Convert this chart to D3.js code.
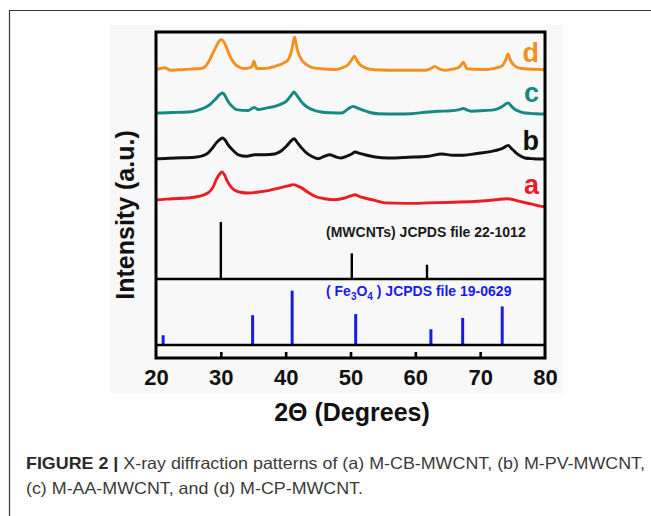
<!DOCTYPE html>
<html>
<head>
<meta charset="utf-8">
<script src="https://cdn.jsdelivr.net/npm/d3@7"></script>
<style>
  html, body { margin: 0; padding: 0; background: #ffffff; }
  svg { display: block; }
</style>
</head>
<body>
<svg id="fig" width="651" height="516"></svg>
<script>
// XRD patterns, stacked: [2θ, intensity (a.u., offset included)]
const patternA = [
  [20, 322], [20.1, 321], [22.5, 325], [24.95, 328], [26.5, 334], [28.0, 348], [28.8, 372], [29.3, 402],
  [29.8, 424], [30.2, 433], [30.6, 420], [31.0, 396], [31.6, 372], [32.2, 358], [33.2, 350], [34.2, 348],
  [35.8, 352], [37.3, 358], [39.4, 371], [40.5, 378], [41.2, 382], [41.8, 377], [42.45, 369], [43.5, 350],
  [44.5, 335], [46.0, 325], [47.6, 321], [49.1, 328], [50.0, 336], [50.7, 341], [51.4, 334], [52.2, 328],
  [53.8, 318], [55.3, 308], [58.5, 306], [62.0, 308], [66.0, 311], [69.7, 315], [72.5, 321], [74.1, 325],
  [75.0, 322], [75.9, 315], [77.8, 304], [79.5, 294], [80, 292]
];
const patternB = [
  [20, 487], [20.1, 487], [23.0, 490], [26.0, 493], [27.2, 499], [28.0, 510], [28.7, 530], [29.3, 551],
  [29.9, 566], [30.3, 571], [30.7, 561], [31.1, 544], [31.9, 520], [32.7, 503], [34.0, 497], [35.25, 503],
  [36.8, 503], [38.3, 506], [39.3, 518], [40.1, 537], [40.8, 558], [41.3, 568], [41.8, 552], [42.45, 531],
  [43.2, 511], [44.0, 497], [45.0, 487], [45.9, 496], [46.8, 503], [47.7, 495], [48.6, 490], [49.5, 498],
  [50.2, 506], [50.7, 514], [51.4, 509], [52.2, 503], [53.8, 494], [55.8, 490], [59.0, 493], [62.0, 497],
  [64.1, 506], [65.8, 501], [67.4, 501], [69.5, 508], [71.8, 517], [73.0, 525], [73.6, 531], [74.3, 541],
  [74.8, 529], [75.4, 514], [76.1, 500], [76.9, 490], [78.2, 487], [79.5, 486], [80, 486]
];
const patternC = [
  [20, 672], [20.1, 672], [22.5, 674], [24.95, 676], [26.4, 683], [27.5, 693], [28.4, 708], [29.1, 726],
  [29.8, 746], [30.3, 753], [30.7, 740], [31.1, 720], [31.7, 700], [32.4, 686], [34.2, 682], [34.8, 690],
  [35.2, 695], [35.75, 686], [37.0, 692], [38.3, 699], [39.3, 708], [40.1, 720], [40.8, 742], [41.3, 757],
  [41.7, 744], [42.2, 726], [42.8, 707], [43.5, 693], [44.5, 682], [45.5, 676], [47.0, 673], [48.6, 672],
  [49.6, 688], [50.4, 699], [51.0, 693], [51.7, 686], [53.0, 674], [54.3, 669], [57.0, 668], [59.4, 669],
  [61.5, 675], [63.5, 679], [65.5, 681], [66.8, 686], [67.4, 690], [68.0, 684], [68.7, 679], [70.5, 682],
  [72.3, 686], [73.4, 698], [74.3, 713], [74.8, 700], [75.4, 686], [76.1, 678], [76.9, 672], [78.5, 669],
  [79.5, 668], [80, 668]
];
const patternD = [
  [20, 846], [20.1, 848], [20.8, 853], [21.4, 855], [22.2, 845], [23.5, 847], [24.5, 848], [26.0, 851],
  [27.0, 852], [27.8, 866], [28.3, 888], [28.8, 916], [29.3, 942], [29.7, 962], [30.1, 969], [30.4, 962],
  [30.7, 949], [31.0, 928], [31.4, 902], [31.9, 880], [32.4, 865], [33.0, 856], [33.7, 852], [34.4, 855],
  [34.8, 860], [35.1, 882], [35.35, 864], [35.5, 852], [36.8, 852], [38.0, 858], [38.8, 865], [39.8, 876],
  [40.4, 888], [40.8, 912], [41.0, 936], [41.25, 968], [41.4, 979], [41.55, 960], [41.8, 929], [42.1, 905],
  [42.45, 888], [43.2, 868], [44.0, 857], [45.5, 851], [47.6, 848], [48.8, 856], [49.65, 868], [50.2, 888],
  [50.6, 902], [51.0, 884], [51.45, 868], [52.3, 855], [53.3, 848], [54.8, 846], [56.3, 845], [59.0, 845],
  [61.5, 845], [62.4, 852], [63.0, 861], [63.6, 852], [64.6, 845], [65.8, 850], [66.6, 855], [67.1, 868],
  [67.4, 878], [67.7, 864], [67.9, 852], [69.3, 849], [70.7, 848], [72.2, 853], [73.3, 861], [73.9, 885],
  [74.3, 911], [74.6, 890], [74.9, 875], [75.4, 862], [75.9, 855], [77.5, 850], [79.5, 848], [80, 846]
];
const patterns = [patternA, patternB, patternC, patternD];
const patternLabels = ["a", "b", "c", "d"];

// Reference stick patterns (relative intensity, %)
const mwcntPeaks = [30.0, 50.2, 61.8];
const mwcntIntensity = [100, 45, 25];
const fe3o4Peaks = [21.1, 34.9, 41.0, 50.8, 62.4, 67.3, 73.4];
const fe3o4Intensity = [18, 55, 100, 57, 29, 50, 71];

// Axis ticks and text
const xTicks = [20, 30, 40, 50, 60, 70, 80];
const xTitle = "2Θ (Degrees)";
const yTitle = "Intensity (a.u.)";
const mwcntCard = "(MWCNTs) JCPDS file 22-1012";
const captionBold = "FIGURE 2 |";
const captionLine1 = " X-ray diffraction patterns of (a) M-CB-MWCNT, (b) M-PV-MWCNT,";
const captionLine2 = "(c) M-AA-MWCNT, and (d) M-CP-MWCNT.";

// ---- styles / layout ----
const seriesColors = ["#ec1c24", "#111111", "#168a82", "#f5901e"];
const labelDy = [-5, -9, -11, -8];
const font = "Arial, 'Liberation Sans', Helvetica, sans-serif";

const svg = d3.select("#fig");

// Outer figure frame (top rule and left rule)
svg.append("line").attr("x1", 9).attr("x2", 651).attr("y1", 10.5).attr("y2", 10.5)
  .attr("stroke", "#333").attr("stroke-width", 1.2);
svg.append("line").attr("x1", 9.5).attr("x2", 9.5).attr("y1", 10).attr("y2", 516)
  .attr("stroke", "#333").attr("stroke-width", 1.2);

// Light grey plate behind the chart
svg.append("rect").attr("x", 110).attr("y", 25).attr("width", 453).attr("height", 368)
  .attr("fill", "#f8f8f8");

const plotLeft = 156, plotRight = 545, plotTop = 32, plotBottom = 358;
const x = d3.scaleLinear().domain([20, 80]).range([plotLeft, plotRight]);
const yPat = d3.scaleLinear().domain([0, 1000]).range([279, plotTop]);
const yMw = d3.scaleLinear().domain([0, 100]).range([279, 222]);
const yFe = d3.scaleLinear().domain([0, 100]).range([345, 290.7]);

const g = svg.append("g");

// Patterns
const line = d3.line().x(d => x(d[0])).y(d => yPat(d[1])).curve(d3.curveMonotoneX);
g.selectAll("path.pattern").data(patterns).join("path")
  .attr("class", "pattern")
  .attr("d", line)
  .attr("fill", "none")
  .attr("stroke", (d, i) => seriesColors[i])
  .attr("stroke-width", 2.9)
  .attr("stroke-linejoin", "round");

// Pattern labels at right edge
g.selectAll("text.plabel").data(patterns).join("text")
  .attr("class", "plabel")
  .attr("x", x(80) - 6)
  .attr("y", (d, i) => yPat(d[0][1]) + labelDy[i])
  .attr("text-anchor", "end")
  .attr("font-family", font).attr("font-weight", "bold").attr("font-size", 27)
  .attr("fill", (d, i) => seriesColors[i])
  .text((d, i) => patternLabels[i]);

// MWCNT reference sticks
g.selectAll("line.mw").data(mwcntPeaks).join("line")
  .attr("class", "mw")
  .attr("x1", d => x(d)).attr("x2", d => x(d))
  .attr("y1", yMw(0)).attr("y2", (d, i) => yMw(mwcntIntensity[i]))
  .attr("stroke", "#000").attr("stroke-width", 2.4);
g.append("text").attr("x", 326).attr("y", 237)
  .attr("font-family", font).attr("font-weight", "bold").attr("font-size", 14)
  .attr("fill", "#1a1a1a").text(mwcntCard);

// Fe3O4 reference sticks
g.selectAll("line.fe").data(fe3o4Peaks).join("line")
  .attr("class", "fe")
  .attr("x1", d => x(d)).attr("x2", d => x(d))
  .attr("y1", yFe(0)).attr("y2", (d, i) => yFe(fe3o4Intensity[i]))
  .attr("stroke", "#1b1be6").attr("stroke-width", 3);
const feText = g.append("text").attr("x", 326).attr("y", 296)
  .attr("font-family", font).attr("font-weight", "bold").attr("font-size", 14)
  .attr("fill", "#1b1be6");
feText.append("tspan").text("( Fe");
feText.append("tspan").attr("font-size", 10).attr("dy", 4).text("3");
feText.append("tspan").attr("dy", -4).text("O");
feText.append("tspan").attr("font-size", 10).attr("dy", 4).text("4");
feText.append("tspan").attr("dy", -4).text(" ) JCPDS file 19-0629");

// Panel separators
[279, 345].forEach(v => {
  g.append("line").attr("x1", plotLeft).attr("x2", plotRight).attr("y1", v).attr("y2", v)
    .attr("stroke", "#000").attr("stroke-width", 2.6);
});

// Frame box
g.append("rect").attr("x", plotLeft).attr("y", plotTop)
  .attr("width", plotRight - plotLeft).attr("height", plotBottom - plotTop)
  .attr("fill", "none").attr("stroke", "#000").attr("stroke-width", 3);

// Bottom axis with inward ticks
const axis = g.append("g").attr("transform", `translate(0,${plotBottom})`)
  .call(d3.axisBottom(x).tickValues(xTicks).tickSizeInner(-6).tickSizeOuter(0).tickPadding(11.5));
axis.select(".domain").remove();
axis.selectAll(".tick line").attr("stroke", "#000").attr("stroke-width", 2.6)
  .attr("display", d => (d === 20 || d === 80) ? "none" : null);
axis.selectAll(".tick text")
  .attr("font-family", font).attr("font-weight", "bold").attr("font-size", 22).attr("fill", "#111");

// Axis titles
svg.append("text").attr("x", 352).attr("y", 421).attr("text-anchor", "middle")
  .attr("font-family", font).attr("font-weight", "bold").attr("font-size", 25).attr("fill", "#111")
  .text(xTitle);
svg.append("text").attr("transform", "translate(134,215) rotate(-90)").attr("text-anchor", "middle")
  .attr("font-family", font).attr("font-weight", "bold").attr("font-size", 25).attr("fill", "#111")
  .text(yTitle);

// Caption
const cap1 = svg.append("text").attr("x", 26).attr("y", 469)
  .attr("font-family", font).attr("font-size", 16.5).attr("fill", "#3a3a3a")
  .attr("textLength", 619).attr("lengthAdjust", "spacingAndGlyphs");
cap1.append("tspan").attr("font-weight", "bold").attr("fill", "#2a2a2a").text(captionBold);
cap1.append("tspan").attr("font-weight", 300).text(captionLine1);
svg.append("text").attr("x", 26).attr("y", 494)
  .attr("font-family", font).attr("font-size", 16.5).attr("fill", "#3a3a3a")
  .attr("textLength", 337).attr("lengthAdjust", "spacingAndGlyphs")
  .text(captionLine2);
</script>
</body>
</html>
